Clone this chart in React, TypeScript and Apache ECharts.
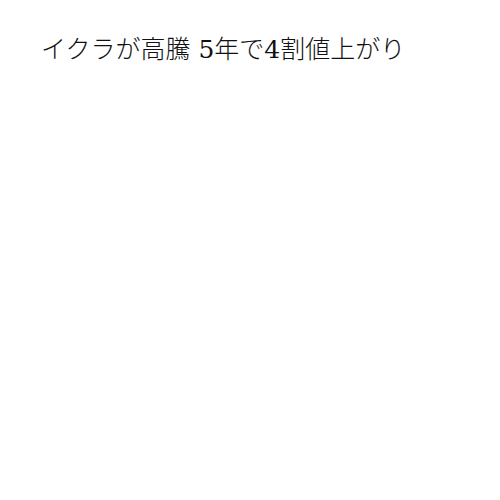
import React, { useEffect, useRef } from 'react';
import * as echarts from 'echarts';

// Only the title is drawn in the reference; no series are visible.
const titleText = 'イクラが高騰 5年で4割値上がり';

const App: React.FC = () => {
  const chartRef = useRef<HTMLDivElement>(null);

  useEffect(() => {
    document.body.style.margin = '0';
    if (!chartRef.current) return;
    const chart = echarts.init(chartRef.current, undefined, { renderer: 'svg' });

    const option: echarts.EChartsOption = {
      animation: false,
      backgroundColor: '#fff',
      title: {
        text: titleText,
        left: 36,
        top: 32,
        textStyle: {
          color: '#111',
          fontSize: 25,
          fontWeight: 300,
          fontFamily: '"DejaVu Serif", "Noto Sans CJK JP", serif',
        },
      },
      series: [],
    };

    chart.setOption(option);

    return () => {
      chart.dispose();
    };
  }, []);

  return <div ref={chartRef} style={{ width: 500, height: 500 }} />;
};

export default App;
